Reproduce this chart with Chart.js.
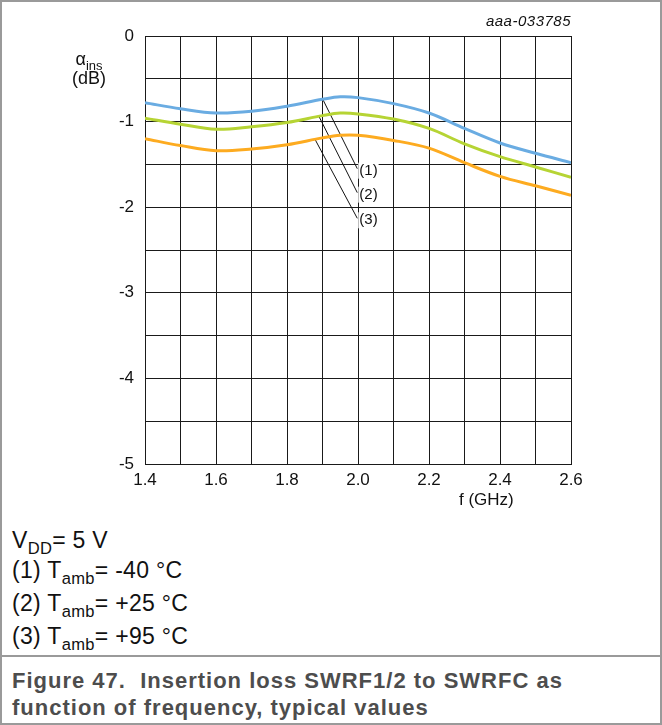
<!DOCTYPE html>
<html>
<head>
<meta charset="utf-8">
<script src="https://cdn.jsdelivr.net/npm/chart.js@4/dist/chart.umd.min.js"></script>
<style>
  body { margin: 0; background: #fff; font-family: "Liberation Sans", Arial, sans-serif; }
  #frame { position: relative; width: 662px; height: 725px; box-sizing: border-box; border: 2px solid #9a9a9a; overflow: hidden; }
  #wrap { position: absolute; left: -2px; top: -2px; width: 662px; height: 500px; }
  .txt { position: absolute; color: #111; white-space: nowrap; }
  sub { font-size: 72%; vertical-align: -0.35em; line-height: 0; }
  #divider { position: absolute; left: 0; right: 0; top: 653px; border-top: 2px solid #9a9a9a; }
  .cap { position: absolute; left: 10px; font-weight: bold; color: #4d4d4d; font-size: 22px; letter-spacing: 1px; }
  .leg { left: 10px; font-size: 23px; letter-spacing: 0.3px; }
</style>
</head>
<body>
<div id="frame">
  <div id="wrap"><canvas id="chart"></canvas></div>
  <div class="txt" style="right:89px; top:10px; font-size:15px; font-style:italic; letter-spacing:0.5px;">aaa-033785</div>
  <div class="txt" style="left:70px; top:48px; font-size:18px; text-align:center; line-height:19px;">α<sub>ins</sub><br>(dB)</div>
  <div class="txt" style="left:457px; top:488px; font-size:17px;">f (GHz)</div>
  <div class="txt leg" style="top:525px;">V<sub>DD</sub>= 5 V</div>
  <div class="txt leg" style="top:555px;">(1) T<sub>amb</sub>= -40 °C</div>
  <div class="txt leg" style="top:588px;">(2) T<sub>amb</sub>= +25 °C</div>
  <div class="txt leg" style="top:621px;">(3) T<sub>amb</sub>= +95 °C</div>
  <div id="divider"></div>
  <div class="cap" style="top:666px;">Figure 47.&nbsp; Insertion loss SWRF1/2 to SWRFC as</div>
  <div class="cap" style="top:693px;">function of frequency, typical values</div>
</div>
<script>
// frequency (GHz) and insertion loss (dB)
const freqGHz = [1.4, 1.5, 1.6, 1.7, 1.8, 1.9, 1.95, 2.0, 2.1, 2.2, 2.3, 2.4, 2.5, 2.6];
const lossM40 = [-0.78, -0.85, -0.90, -0.88, -0.82, -0.74, -0.71, -0.72, -0.79, -0.90, -1.08, -1.25, -1.37, -1.48];
const lossP25 = [-0.96, -1.03, -1.09, -1.06, -1.01, -0.93, -0.90, -0.91, -0.97, -1.08, -1.26, -1.41, -1.53, -1.65];
const lossP95 = [-1.20, -1.28, -1.34, -1.32, -1.27, -1.19, -1.16, -1.16, -1.22, -1.31, -1.48, -1.64, -1.75, -1.86];

const curveLabels = ['(1)', '(2)', '(3)'];
// leader lines: start on the curve, end at the label
const leaderX = [[1.901, 1.998], [1.890, 1.998], [1.879, 1.998]];
const leaderY = [[-0.741, -1.55], [-0.939, -1.83], [-1.208, -2.13]];

const yTicks = [0, -1, -2, -3, -4, -5];

function pts(xs, ys) {
    return xs.map((x, i) => ({ x: x, y: ys[i] }));
}

const curves = [
    { data: lossM40, color: 'rgb(106,172,226)' },
    { data: lossP25, color: 'rgb(182,212,52)' },
    { data: lossP95, color: 'rgb(253,171,32)' }
];

const datasets = curves.map(c => ({
    data: pts(freqGHz, c.data),
    borderColor: c.color,
    borderWidth: 3,
    pointRadius: 0,
    tension: 0.35,
    fill: false
}));

leaderX.forEach((xs, i) => {
    datasets.push({
        data: pts(xs, leaderY[i]),
        borderColor: '#111',
        borderWidth: 1,
        pointRadius: 0,
        tension: 0
    });
});

// writes (1), (2), (3) at the end of each leader line
const labelPlugin = {
    id: 'curveLabels',
    afterDatasetsDraw(chart) {
        const ctx = chart.ctx;
        const xs = chart.scales.x, ys = chart.scales.y;
        ctx.save();
        ctx.font = '15px "Liberation Sans", Arial, sans-serif';
        ctx.textBaseline = 'middle';
        curveLabels.forEach((t, i) => {
            const px = xs.getPixelForValue(leaderX[i][1]) + 1;
            const py = ys.getPixelForValue(leaderY[i][1]) + 2;
            ctx.fillStyle = '#fff';
            ctx.fillRect(px, py - 8, ctx.measureText(t).width + 2, 16);
            ctx.fillStyle = '#111';
            ctx.fillText(t, px + 1, py);
        });
        ctx.restore();
    }
};

new Chart(document.getElementById('chart'), {
    type: 'line',
    data: { datasets: datasets },
    options: {
        responsive: true,
        maintainAspectRatio: false,
        animation: false,
        layout: { padding: { left: 0, top: 36, right: 91, bottom: 0 } },
        plugins: { legend: { display: false }, tooltip: { enabled: false } },
        scales: {
            x: {
                type: 'linear',
                min: 1.4,
                max: 2.6,
                afterFit(scale) { scale.height = 36; },
                grid: { color: '#1a1a1a', lineWidth: 1, drawTicks: false },
                border: { color: '#1a1a1a' },
                ticks: {
                    stepSize: 0.1,
                    padding: 6,
                    color: '#111',
                    font: { size: 17, family: '"Liberation Sans", Arial, sans-serif' },
                    autoSkip: false,
                    maxRotation: 0,
                    callback: v => (Math.round(v * 10) % 2 === 0 ? v.toFixed(1) : '')
                }
            },
            y: {
                min: -5,
                max: 0,
                afterFit(scale) { scale.width = 145; },
                grid: { color: '#1a1a1a', lineWidth: 1, drawTicks: false },
                border: { color: '#1a1a1a' },
                ticks: {
                    stepSize: 0.5,
                    padding: 11,
                    color: '#111',
                    font: { size: 17, family: '"Liberation Sans", Arial, sans-serif' },
                    autoSkip: false,
                    callback: v => (yTicks.includes(v) ? String(v) : '')
                }
            }
        }
    },
    plugins: [labelPlugin]
});
</script>
</body>
</html>
